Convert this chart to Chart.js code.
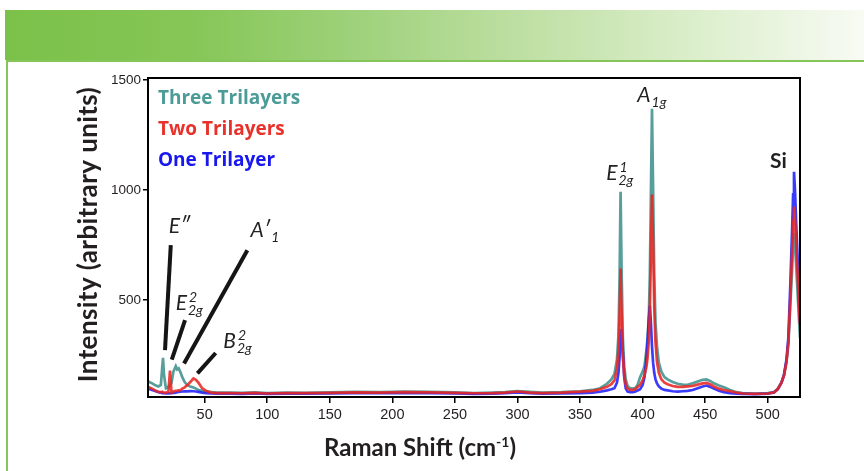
<!DOCTYPE html>
<html>
<head>
<meta charset="utf-8">
<script src="https://cdn.jsdelivr.net/npm/chart.js@4.4.0/dist/chart.umd.min.js"></script>
<style>
  body { margin: 0; background: #fff; }
  #wrap { position: relative; width: 864px; height: 471px; overflow: hidden; }
  .band {
    position: absolute; left: 5px; top: 10px; right: 0; height: 50px;
    background: linear-gradient(90deg, #7bc149 0%, #86c657 22%, #a0d27d 42%, #bedfa3 60%, #dbeecb 80%, #f8fbf4 100%);
  }
  .box {
    position: absolute; left: 6px; top: 60px; right: -4px; bottom: -4px;
    border-left: 2px solid #86c55a; border-top: 2px solid #86c55a;
  }
  canvas { position: absolute; left: 0; top: 0; }
</style>
</head>
<body>
<div id="wrap">
  <div class="band"></div>
  <div class="box"></div>
  <canvas id="raman" width="864" height="471"></canvas>
</div>
<script>
// --- data ---
const shift = [
  5, 8, 11, 13, 15, 16, 16.7, 17.5, 19, 21, 22.3, 23.5, 25, 26.9, 28, 29.2, 30.8, 32.1, 34, 36.2,
  38.5, 41, 43, 45, 48, 51, 55, 60, 70, 80, 90, 100, 115, 130, 150, 170, 190, 210, 230, 250,
  265, 280, 290, 300, 310, 320, 335, 350, 360, 366, 371.5, 375, 377.5, 379.5, 380.7, 381.6, 382.4, 383.2, 384.2, 385.3,
  386.5, 388, 390, 392, 394, 396, 398, 400, 401.5, 403, 404, 405, 405.8, 406.6, 407.5, 408.4, 409.3, 410.3, 411.5, 413,
  415, 417.5, 420, 424, 428, 432, 436, 440, 444, 448, 451, 454, 457, 461, 465, 470, 475, 480, 490, 500,
  505, 508, 511, 513, 515, 516.5, 518, 519.5, 520.3, 521, 521.8, 522.8, 524, 525, 525.8
];

const threeTrilayers = [
  130, 122, 112, 108, 115, 190, 238, 160, 100, 105, 115, 125, 175, 200, 185, 190, 170, 150, 128, 114,
  108, 103, 98, 92, 88, 84, 82, 80, 80, 79, 81, 78, 80, 79, 81, 83, 82, 84, 83, 81,
  78, 80, 82, 87, 83, 80, 82, 86, 92, 100, 120, 140, 165, 230, 340, 600, 992, 640, 330, 200,
  140, 110, 100, 98, 100, 115, 150, 175, 200, 270, 330, 430, 620, 960, 1369, 1000, 620, 400, 290, 215,
  175, 150, 140, 128, 120, 116, 115, 122, 130, 138, 140, 133, 122, 112, 104, 92, 82, 78, 76, 78,
  82, 98, 126, 160, 220, 300, 470, 640, 750, 805, 760, 650, 520, 410, 330
];

const twoTrilayers = [
  106, 98, 88, 84, 82, 84, 82, 80, 80, 84, 180, 80, 85, 88, 88, 90, 92, 98, 104, 114,
  128, 144, 138, 125, 100, 88, 80, 78, 78, 77, 79, 76, 78, 78, 79, 81, 80, 82, 81, 79,
  77, 78, 80, 85, 80, 78, 80, 84, 88, 95, 106, 118, 135, 190, 270, 430, 644, 440, 250, 160,
  118, 98, 92, 92, 95, 105, 115, 135, 160, 195, 240, 320, 450, 700, 980, 760, 470, 310, 220, 170,
  140, 125, 118, 110, 106, 106, 108, 110, 116, 122, 124, 118, 108, 98, 92, 86, 80, 76, 74, 76,
  80, 96, 125, 158, 220, 310, 500, 720, 860, 924, 870, 740, 600, 470, 390
];

const oneTrilayer = [
  98, 92, 86, 82, 80, 78, 78, 77, 76, 76, 77, 78, 79, 80, 82, 83, 84, 85, 86, 86,
  87, 86, 85, 83, 80, 78, 76, 75, 75, 74, 76, 74, 75, 75, 76, 77, 77, 78, 77, 76,
  74, 75, 77, 81, 77, 75, 76, 78, 80, 84, 90, 95, 100, 125, 170, 240, 330, 369, 260, 150,
  100, 85, 82, 82, 84, 90, 95, 115, 150, 230, 310, 420, 474, 400, 290, 215, 170, 140, 122, 108,
  98, 92, 90, 86, 84, 86, 88, 92, 100, 108, 112, 106, 98, 88, 82, 78, 75, 74, 73, 75,
  80, 95, 125, 160, 230, 330, 560, 820, 980, 1083, 1000, 840, 680, 500, 400
];

const xTicks = [50, 100, 150, 200, 250, 300, 350, 400, 450, 500];
const yTicks = [500, 1000, 1500];

const seriesNames = ['Three Trilayers', 'Two Trilayers', 'One Trilayer'];
const seriesColors = ['#4b9b97', '#e8312a', '#1717ee'];

// peak labels, anchored in data units (x = shift, y = intensity at text baseline)
const peakLabels = [
  { at: [21.3, 804], main: 'E\u2033' },
  { at: [86.7, 788], main: 'A\u2032', sub: '1' },
  { at: [26.8, 454], main: 'E', sup: '2', sub: '2g' },
  { at: [64.9, 282], main: 'B', sup: '2', sub: '2g' },
  { at: [370.9, 1045], main: 'E', sup: '1', sub: '2g' },
  { at: [395.8, 1400], main: 'A', sub: '1g' },
  { at: [501.8, 1100], main: 'Si', bold: true }
];

// leader lines from the low-frequency labels down to their peaks
const leaderLines = [
  { from: [22.9, 750], to: [18.3, 273] },
  { from: [84.1, 727], to: [33.5, 212] },
  { from: [34.3, 409], to: [23.7, 230] },
  { from: [58.8, 260], to: [44.2, 167] }
];

const toPoints = arr => arr.map((v, i) => ({ x: shift[i], y: v }));

const overlay = {
  id: 'overlay',
  afterDatasetsDraw(chart) {
    const { ctx, chartArea: a, scales: { x, y } } = chart;
    ctx.save();

    // leader lines
    ctx.strokeStyle = '#151515';
    ctx.lineWidth = 4;
    leaderLines.forEach(l => {
      ctx.beginPath();
      ctx.moveTo(x.getPixelForValue(l.from[0]), y.getPixelForValue(l.from[1]));
      ctx.lineTo(x.getPixelForValue(l.to[0]), y.getPixelForValue(l.to[1]));
      ctx.stroke();
    });

    // peak labels
    ctx.fillStyle = '#222';
    ctx.textBaseline = 'alphabetic';
    ctx.textAlign = 'left';
    peakLabels.forEach(p => {
      const px = x.getPixelForValue(p.at[0]);
      const py = y.getPixelForValue(p.at[1]);
      ctx.font = p.bold ? 'bold 21px Lato' : 'italic 21px Lato';
      ctx.fillText(p.main, px, py);
      const w = ctx.measureText(p.main).width;
      ctx.font = 'italic 14px Lato';
      if (p.sup) ctx.fillText(p.sup, px + w + 2, py - 8);
      if (p.sub) ctx.fillText(p.sub, px + w + 1, py + 5);
    });

    // legend (coloured text only)
    ctx.font = 'bold 19px "Open Sans"';
    seriesNames.forEach((n, i) => {
      ctx.fillStyle = seriesColors[i];
      ctx.fillText(n, a.left + 10, a.top + 26 + i * 31);
    });

    // frame
    ctx.strokeStyle = '#000';
    ctx.lineWidth = 2;
    ctx.strokeRect(a.left, a.top, a.right - a.left, a.bottom - a.top);
    ctx.restore();
  },
  afterDraw(chart) {
    const { ctx, chartArea: a } = chart;
    ctx.save();
    ctx.fillStyle = '#231f20';
    // y title
    ctx.font = 'bold 26px Lato';
    ctx.letterSpacing = '0.4px';
    ctx.translate(97, (a.top + a.bottom) / 2 - 3);
    ctx.rotate(-Math.PI / 2);
    ctx.textAlign = 'center';
    ctx.textBaseline = 'alphabetic';
    ctx.fillText('Intensity (arbitrary units)', 0, 0);
    ctx.setTransform(1, 0, 0, 1, 0, 0);
    ctx.letterSpacing = '0px';
    // x title with superscript
    const t1 = 'Raman Shift (cm', t2 = '-1', t3 = ')';
    ctx.font = 'bold 24px Lato';
    const w1 = ctx.measureText(t1).width, w3 = ctx.measureText(t3).width;
    ctx.font = 'bold 14px Lato';
    const w2 = ctx.measureText(t2).width;
    const sx = 420 - (w1 + w2 + w3) / 2;
    const by = 456;
    ctx.textAlign = 'left';
    ctx.font = 'bold 24px Lato';
    ctx.fillText(t1, sx, by);
    ctx.font = 'bold 14px Lato';
    ctx.fillText(t2, sx + w1, by - 9);
    ctx.font = 'bold 24px Lato';
    ctx.fillText(t3, sx + w1 + w2, by);
    ctx.restore();
  }
};

const ctx = document.getElementById('raman').getContext('2d');
const ramanChart = new Chart(ctx, {
  type: 'line',
  data: {
    datasets: [
      { label: seriesNames[1], data: toPoints(twoTrilayers), borderColor: 'rgba(232,40,36,0.88)' },
      { label: seriesNames[2], data: toPoints(oneTrilayer), borderColor: 'rgba(25,25,250,0.85)' },
      { label: seriesNames[0], data: toPoints(threeTrilayers), borderColor: 'rgba(74,150,146,0.92)' }
    ]
  },
  options: {
    responsive: false,
    animation: false,
    elements: {
      line: { borderWidth: 2.7, tension: 0, fill: false },
      point: { radius: 0 }
    },
    layout: { padding: { left: 0, right: 64, top: 78, bottom: 0 } },
    plugins: { legend: { display: false }, tooltip: { enabled: false } },
    scales: {
      x: {
        type: 'linear',
        min: 4.7,
        max: 525.8,
        afterBuildTicks: s => { s.ticks = xTicks.map(v => ({ value: v })); },
        afterFit: s => { s.height = 74; },
        grid: { drawOnChartArea: false, drawTicks: true, tickLength: 6, color: '#000', lineWidth: 1.5 },
        border: { display: false },
        ticks: { color: '#231f20', font: { family: 'Liberation Sans', size: 14.5 }, padding: 3, callback: v => v, maxRotation: 0 }
      },
      y: {
        type: 'linear',
        min: 60,
        max: 1509,
        afterBuildTicks: s => { s.ticks = yTicks.map(v => ({ value: v })); },
        afterFit: s => { s.width = 148; },
        grid: { drawOnChartArea: false, drawTicks: true, tickLength: 5, color: '#000', lineWidth: 1.5 },
        border: { display: false },
        ticks: { color: '#231f20', font: { family: 'Liberation Sans', size: 13.5 }, padding: 2, callback: v => v }
      }
    }
  },
  plugins: [overlay]
});
</script>
</body>
</html>
